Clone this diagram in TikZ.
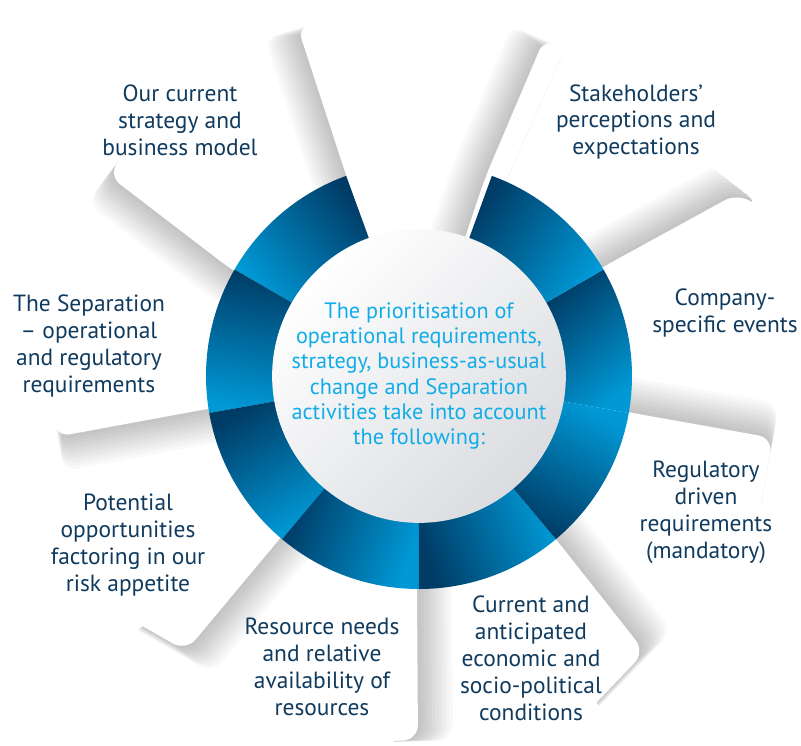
\documentclass[tikz,border=0pt]{standalone}
\usepackage{fontspec}
\setmainfont{PT Sans}
\definecolor{ringdark}{RGB}{0,60,102}
\definecolor{ringbright}{RGB}{0,153,214}
\definecolor{labelblue}{RGB}{16,59,94}
\definecolor{hubblue}{RGB}{18,172,232}
\definecolor{hubgrey}{RGB}{218,220,224}
\tikzstyle{blade}=[fill=white, rounded corners=0.45cm]
\tikzstyle{blade shadow}=[fill=black, fill opacity=0.024, rounded corners=0.45cm]
\tikzstyle{segment}=[top color=ringdark, bottom color=ringbright]
\tikzstyle{label text}=[align=center, text=labelblue, inner sep=0pt, font=\fontsize{20}{23}\selectfont]
\tikzstyle{hub}=[circle, minimum size=8.7cm, inner sep=0pt, top color=white, bottom color=hubgrey, shading angle=45, align=center, text=hubblue, font=\fontsize{19}{21.5}\selectfont]
% shadow of blade #1 falling on blade #2, pushed towards #3 degrees
\newcommand{\castshadow}[3]{%
    \begin{scope}
        \clip[rounded corners=0.45cm] #2;
        \foreach \s in {1,...,10}
            \path[blade shadow, shift={(#3:\s*3.5)}] #1;
    \end{scope}}

\begin{document}
\begin{tikzpicture}[x=0.03cm, y=0.03cm]
    \useasboundingbox (-419,-369) rectangle (382,376);
    \clip (-419,-369) rectangle (382,376);
    % The nine blades, going round counterclockwise from the top
    \def\bladeT{(0,0) -- (-72,198) -- (-122,351) -- (161,361) -- cycle}
    \def\bladeOS{(0,0) -- (-187,106) -- (-311,201) -- (-172,382) -- (-119,396) -- cycle}
    \def\bladeSep{(0,0) -- (-212,-33) -- (-364,-61) -- (-359,256) -- cycle}
    \def\bladePot{(0,0) -- (-137,-160) -- (-233,-275) -- (-479,-134) -- (-479,-24) -- cycle}
    \def\bladeRes{(0,0) -- (-2,-214) -- (-1,-364) -- (-420,-380) -- cycle}
    \def\bladeCur{(0,0) -- (136,-162) -- (226,-276) -- (84,-424) -- (-29,-424) -- cycle}
    \def\bladeReg{(0,0) -- (208,-36) -- (354,-62) -- (332,-184) -- (231,-424) -- cycle}
    \def\bladeCom{(0,0) -- (184,109) -- (319,183) -- (481,76) -- (481,-184) -- cycle}
    \def\bladeS{(0,0) -- (66,198) -- (126,339) -- (341,171) -- cycle}

    % Lowest blade first, each next one throws its shadow on the one before
    \fill[blade] \bladeS;
    \castshadow{\bladeCom}{\bladeS}{118.7}
    \fill[blade] \bladeCom;
    \castshadow{\bladeReg}{\bladeCom}{79.9}
    \fill[blade] \bladeReg;
    \castshadow{\bladeCur}{\bladeReg}{38.3}
    \fill[blade] \bladeCur;
    \castshadow{\bladeRes}{\bladeCur}{0}
    \fill[blade] \bladeRes;
    \castshadow{\bladePot}{\bladeRes}{320.1}
    \fill[blade] \bladePot;
    \castshadow{\bladeSep}{\bladePot}{280.4}
    \fill[blade] \bladeSep;
    \castshadow{\bladeOS}{\bladeSep}{232.5}
    \fill[blade] \bladeOS;
    \castshadow{\bladeT}{\bladeOS}{198.1}
    \fill[blade] \bladeT;
    % the stakeholders blade lies over the top one
    \castshadow{\bladeS}{\bladeT}{156.9}
    \begin{scope}
        \clip[rounded corners=0.45cm] \bladeT;
        \fill[blade] \bladeS;
    \end{scope}

    % Ring of eight segments, the top slot left open
    \foreach \a/\ang in {110/310, 150/350, 190/30, 230/70, 270/110, 310/150, 350/40, 30/55}
        \shade[segment, shading angle=\ang] (\a:213) arc[start angle=\a, end angle=\a+40, radius=213]
            -- (\a+40:144) arc[start angle=\a+40, end angle=\a, radius=144] -- cycle;

    % Hub and labels
    \node[hub] (hub) at (0,0) {The prioritisation of\\operational requirements,\\strategy, business-as-usual\\change and Separation\\activities take into account\\the following:};
    \node[label text] (strategy) at (-239,256) {Our current\\strategy and\\business model};
    \node[label text] (stakeholders) at (217,254) {Stakeholders’\\perceptions and\\expectations};
    \node[label text] (company) at (306,63) {Company-\\specific events};
    \node[label text] (regulatory) at (287,-136) {Regulatory\\driven\\requirements\\(mandatory)};
    \node[label text] (conditions) at (112,-282) {Current and\\anticipated\\economic and\\socio-political\\conditions};
    \node[label text] (resources) at (-97,-291) {Resource needs\\and relative\\availability of\\resources};
    \node[label text] (opportunities) at (-291,-169) {Potential\\opportunities\\factoring in our\\risk appetite};
    \node[label text] (separation) at (-330,30) {The Separation\\– operational\\and regulatory\\requirements};
\end{tikzpicture}
\end{document}
